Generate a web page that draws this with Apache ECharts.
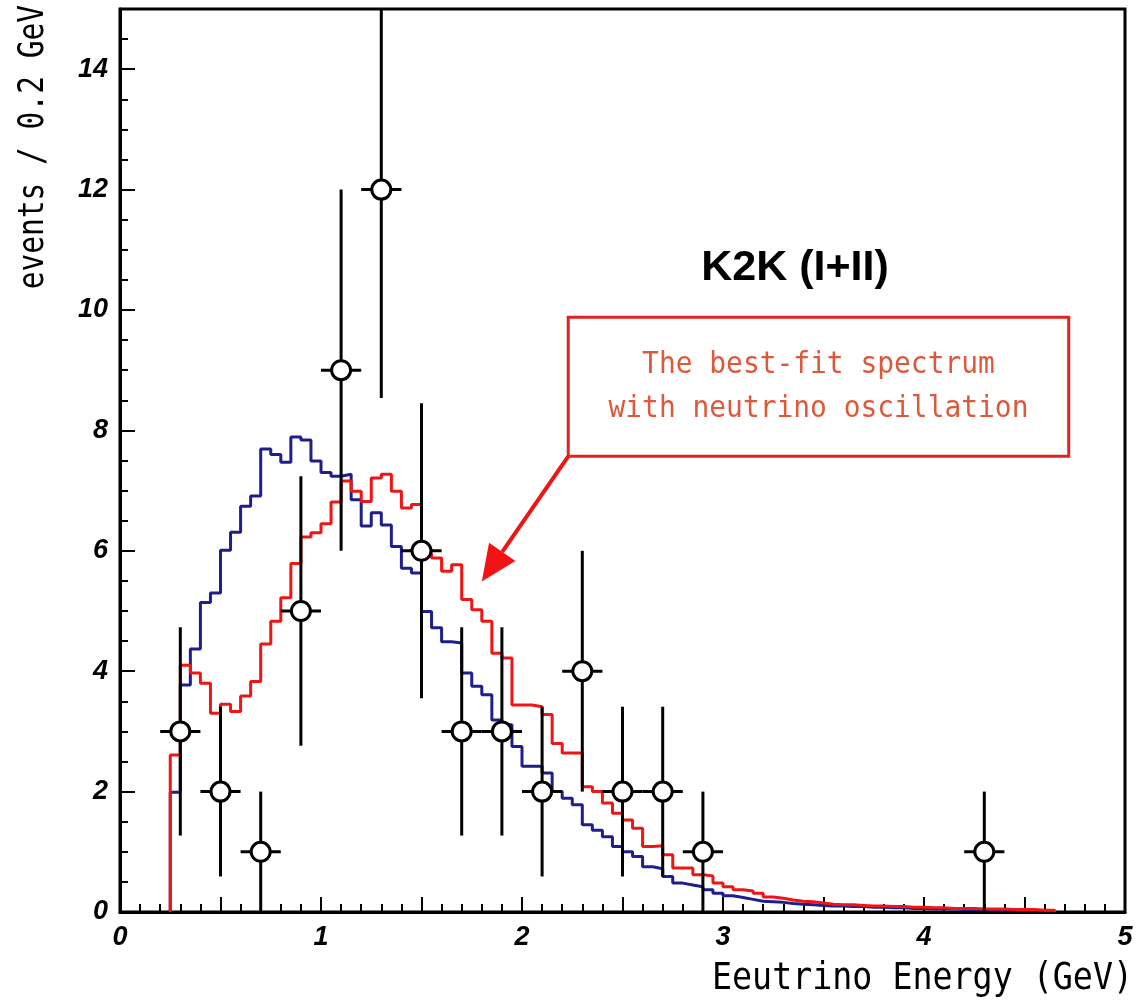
<!DOCTYPE html>
<html>
<head>
<meta charset="utf-8">
<script src="https://cdn.jsdelivr.net/npm/echarts@6/dist/echarts.min.js"></script>
<style>html,body{margin:0;padding:0;background:#fff}#c{width:1137px;height:1003px}</style>
</head>
<body>
<div id="c"></div>
<script>
// ---- data ----
const binStart = 0.25;
const binWidth = 0.05;
const noOscValues = [ // blue histogram, bins from 0.25 GeV, width 0.05
  1.99, 3.77, 4.37, 5.14, 5.30, 6.01, 6.31, 6.74, 6.91, 7.69,
  7.60, 7.47, 7.89, 7.84, 7.49, 7.30, 7.24, 7.27, 6.85, 6.41,
  6.63, 6.43, 6.07, 5.71, 5.63, 4.99, 4.72, 4.49, 4.47, 3.97,
  3.75, 3.61, 3.19, 3.11, 2.75, 2.42, 2.42, 2.31, 2.00, 1.89,
  1.78, 1.45, 1.36, 1.25, 1.09, 1.00, 0.92, 0.75, 0.72, 0.59,
  0.48, 0.45, 0.42, 0.37, 0.31, 0.27, 0.24, 0.21, 0.18, 0.17,
  0.16, 0.14, 0.13, 0.12, 0.11, 0.10, 0.10, 0.09, 0.09, 0.08,
  0.08, 0.07, 0.07, 0.06, 0.06, 0.05, 0.05, 0.05, 0.04, 0.04,
  0.04, 0.03, 0.03, 0.03, 0.02, 0.02, 0.02, 0.02
];
const bestFitValues = [ // red histogram, same bins
  2.61, 4.10, 3.97, 3.80, 3.30, 3.45, 3.33, 3.59, 3.83, 4.45,
  4.83, 5.22, 5.79, 6.23, 6.30, 6.45, 6.81, 7.16, 6.99, 6.82,
  7.21, 7.27, 6.99, 6.71, 6.77, 5.96, 5.88, 5.66, 5.77, 5.19,
  5.02, 4.83, 4.30, 4.22, 3.44, 3.44, 3.41, 3.28, 2.80, 2.64,
  2.64, 2.08, 2.00, 1.81, 1.64, 1.53, 1.39, 1.09, 1.10, 0.95,
  0.73, 0.73, 0.62, 0.60, 0.48, 0.42, 0.37, 0.35, 0.31, 0.25,
  0.23, 0.20, 0.18, 0.17, 0.15, 0.13, 0.12, 0.12, 0.11, 0.10,
  0.10, 0.09, 0.09, 0.08, 0.08, 0.07, 0.07, 0.06, 0.06, 0.06,
  0.05, 0.05, 0.05, 0.04, 0.04, 0.04, 0.03, 0.03
];
const dataEnergy = [0.3, 0.5, 0.7, 0.9, 1.1, 1.3, 1.5, 1.7, 1.9, 2.1, 2.3, 2.5, 2.7, 2.9, 4.3];
const dataEvents = [3, 2, 1, 5, 9, 12, 6, 3, 3, 2, 4, 2, 2, 1, 1];
const dataErr    = [1.73, 1.41, 1.0, 2.24, 3.0, 3.46, 2.45, 1.73, 1.73, 1.41, 2.0, 1.41, 1.41, 1.0, 1.0];
const dataXErr   = [0.1, 0.1, 0.1, 0.1, 0.1, 0.1, 0.1, 0.1, 0.1, 0.1, 0.1, 0.1, 0.1, 0.1, 0.1];
const xTickLabels = ['0', '1', '2', '3', '4', '5'];
const yTickLabels = ['0', '2', '4', '6', '8', '10', '12', '14'];
const titleText = 'K2K (I+II)';
const xTitle = 'Eeutrino Energy (GeV)';
const yTitle = 'events / 0.2 GeV';
const noteLines = ['The best-fit spectrum', 'with neutrino oscillation'];
// annotation anchor points in data coordinates
const noteBox = {x0: 2.23, y0: 9.88, x1: 4.72, y1: 7.57};
const arrowTip = [1.80, 5.49];

function histPoints(vals) {
  const pts = [[binStart, 0]];
  vals.forEach((v, i) => pts.push([binStart + i * binWidth, v]));
  const end = binStart + vals.length * binWidth;
  pts.push([end, vals[vals.length - 1]]);
  pts.push([end, 0]);
  return pts;
}

const pointData = dataEnergy.map((e, i) => [e, dataEvents[i], dataErr[i], dataXErr[i]]);

const chart = echarts.init(document.getElementById('c'), null, {renderer: 'canvas'});
const labelFont = {fontFamily: 'Liberation Sans', fontWeight: 'bold', fontStyle: 'italic', fontSize: 27, color: '#000'};
const monoFont = 'DejaVu Sans Mono';

chart.setOption({
  animation: false,
  backgroundColor: '#fff',
  grid: {left: 120, right: 12, top: 9, bottom: 91, show: true, borderColor: '#000', borderWidth: 3, backgroundColor: 'transparent'},
  xAxis: {
    type: 'value', min: 0, max: 5, interval: 0.5,
    axisLine: {lineStyle: {color: '#000', width: 3}},
    axisTick: {inside: true, length: 15, lineStyle: {color: '#000', width: 2}},
    minorTick: {show: true, splitNumber: 5, length: 8, lineStyle: {color: '#000', width: 2}},
    splitLine: {show: false},
    axisLabel: Object.assign({margin: 12, formatter: v => {
      const idx = xTickLabels.indexOf(String(v));
      return idx >= 0 ? xTickLabels[idx] : '';
    }}, labelFont)
  },
  yAxis: [
    {
      type: 'value', min: 0, max: 15, interval: 2,
      axisLine: {lineStyle: {color: '#000', width: 3}},
      axisTick: {inside: true, length: 15, lineStyle: {color: '#000', width: 2}},
      splitLine: {show: false},
      axisLabel: Object.assign({margin: 12, showMaxLabel: false, formatter: v => {
        const idx = yTickLabels.indexOf(String(v));
        return idx >= 0 ? yTickLabels[idx] : '';
      }}, labelFont)
    },
    {
      type: 'value', min: 0, max: 15, interval: 0.5, position: 'left',
      axisLine: {show: false},
      axisTick: {inside: true, length: 8, lineStyle: {color: '#000', width: 2}},
      axisLabel: {show: false},
      splitLine: {show: false}
    }
  ],
  series: [
    {
      type: 'line', name: 'no oscillation', step: 'end', data: histPoints(noOscValues),
      showSymbol: false, symbol: 'none', lineStyle: {color: '#1e1e8c', width: 3}, z: 2, clip: true
    },
    {
      type: 'line', name: 'best fit', step: 'end', data: histPoints(bestFitValues),
      showSymbol: false, symbol: 'none', lineStyle: {color: '#f01414', width: 3}, z: 3, clip: true
    },
    {
      type: 'custom', name: 'errors', data: pointData, z: 4, clip: true,
      renderItem: (params, api) => {
        const x = api.value(0), y = api.value(1), ey = api.value(2), ex = api.value(3);
        const top = api.coord([x, Math.min(y + ey, 15)]);
        const bot = api.coord([x, Math.max(y - ey, 0)]);
        const l = api.coord([x - ex, y]);
        const r = api.coord([x + ex, y]);
        const st = {stroke: '#000', lineWidth: 3};
        return {type: 'group', children: [
          {type: 'line', shape: {x1: top[0], y1: top[1], x2: bot[0], y2: bot[1]}, style: st},
          {type: 'line', shape: {x1: l[0], y1: l[1], x2: r[0], y2: r[1]}, style: st}
        ]};
      }
    },
    {
      type: 'scatter', name: 'data', data: pointData.map(p => [p[0], p[1]]), z: 5,
      symbol: 'circle', symbolSize: 19,
      itemStyle: {color: '#fff', borderColor: '#000', borderWidth: 3, opacity: 1}
    }
  ]
});

const p0 = chart.convertToPixel({xAxisIndex: 0, yAxisIndex: 0}, [noteBox.x0, noteBox.y0]);
const p1 = chart.convertToPixel({xAxisIndex: 0, yAxisIndex: 0}, [noteBox.x1, noteBox.y1]);
const tip = chart.convertToPixel({xAxisIndex: 0, yAxisIndex: 0}, arrowTip);
const corner = [p0[0], p1[1]];
const dx = tip[0] - corner[0], dy = tip[1] - corner[1];
const len = Math.sqrt(dx * dx + dy * dy);
const ux = dx / len, uy = dy / len;
const headLen = 36, headHalf = 16;
const base = [tip[0] - ux * headLen, tip[1] - uy * headLen];
const nx = -uy, ny = ux;
const cx = (p0[0] + p1[0]) / 2, cy = (p0[1] + p1[1]) / 2;

chart.setOption({
  graphic: [
    {type: 'text', x: 795, y: 268, z: 10, style: {text: titleText, font: 'bold 43px "Liberation Sans"', fill: '#000', align: 'center', verticalAlign: 'middle'}},
    {type: 'text', x: 1133, y: 979, scaleX: 0.9, z: 10,
      style: {text: xTitle, fontFamily: monoFont, fontSize: 37, fill: '#000', align: 'right', verticalAlign: 'middle'}},
    {type: 'text', x: 34, y: 5, rotation: Math.PI / 2, scaleX: 0.82, z: 10,
      style: {text: yTitle, fontFamily: monoFont, fontSize: 36, fill: '#000', align: 'right', verticalAlign: 'middle'}},
    {type: 'rect', z: 10, shape: {x: p0[0], y: p0[1], width: p1[0] - p0[0], height: p1[1] - p0[1]},
      style: {fill: '#fff', stroke: '#e02222', lineWidth: 3}},
    {type: 'text', x: cx, y: cy - 22, z: 11, scaleX: 0.9,
      style: {text: noteLines[0], fontFamily: monoFont, fontSize: 31, fill: '#dc5a3c', align: 'center', verticalAlign: 'middle'}},
    {type: 'text', x: cx, y: cy + 22, z: 11, scaleX: 0.9,
      style: {text: noteLines[1], fontFamily: monoFont, fontSize: 31, fill: '#dc5a3c', align: 'center', verticalAlign: 'middle'}},
    {type: 'line', z: 10, shape: {x1: corner[0], y1: corner[1], x2: base[0], y2: base[1]}, style: {stroke: '#f01414', lineWidth: 4}},
    {type: 'polygon', z: 10, shape: {points: [tip, [base[0] + nx * headHalf, base[1] + ny * headHalf], [base[0] - nx * headHalf, base[1] - ny * headHalf]]},
      style: {fill: '#f01414'}}
  ]
});
</script>
</body>
</html>
